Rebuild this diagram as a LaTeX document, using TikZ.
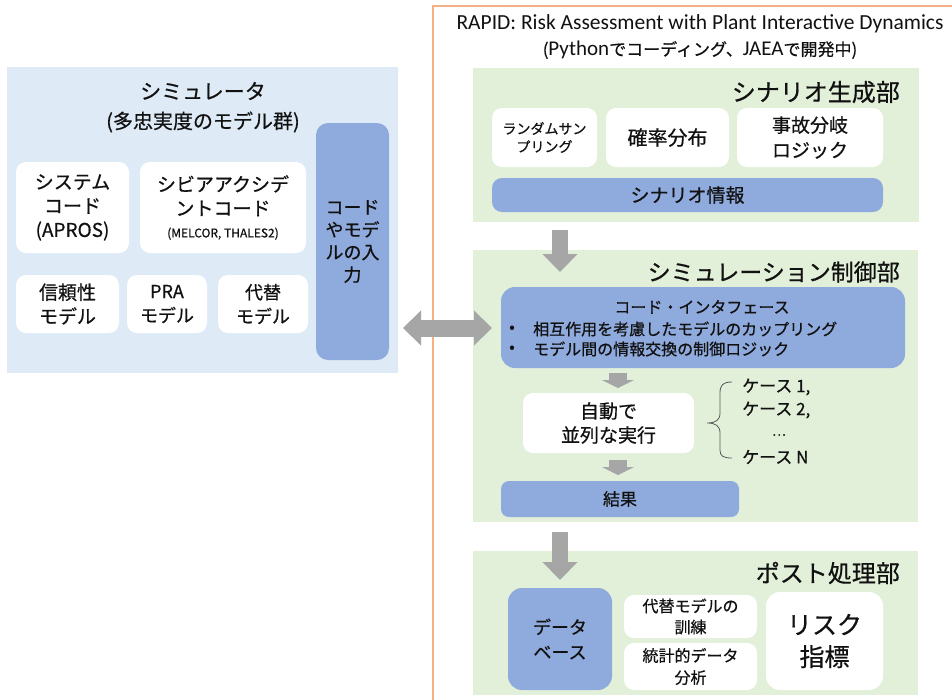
\documentclass[tikz,border=0pt]{standalone}
\usepackage{fontspec}
\setmainfont{Noto Sans CJK JP}[FakeBold=0.6]
\newfontfamily\carl{Carlito}
\usetikzlibrary{arrows.meta,calc}
\definecolor{simbg}{HTML}{DEEBF7}
\definecolor{grbg}{HTML}{E2F0D9}
\definecolor{bluebox}{HTML}{8FAADC}
\definecolor{arrgray}{HTML}{A6A6A6}
\definecolor{orangeline}{HTML}{F4B183}
\definecolor{txt}{HTML}{111111}
\tikzset{
  panel/.style={draw=none, inner sep=0pt},
  wbox/.style={fill=white, draw=none, rounded corners=10pt, align=center, inner sep=0pt, text=txt},
  bbox/.style={fill=bluebox, draw=none, rounded corners=10pt, align=center, inner sep=0pt, text=txt},
  lbl/.style={inner sep=0pt, text=txt, align=center},
  bigarrow/.style={draw=arrgray, line width=16pt, -{Triangle[width=34pt,length=18pt]}},
  smallarrow/.style={draw=arrgray, line width=18pt, -{Triangle[width=32pt,length=8pt]}},
  dblarrow/.style={draw=arrgray, line width=17pt, {Triangle[width=34pt,length=18pt]}-{Triangle[width=34pt,length=18pt]}},
}
\newcommand\fz[2]{\fontsize{#1}{#2}\selectfont}
\begin{document}
\begin{tikzpicture}[x=1pt,y=-1pt]
\useasboundingbox (0,0) rectangle (952,699);
\clip (0,0) rectangle (952,699);
\fill[white] (0,0) rectangle (952,699);

% ---------------- Simulator ----------------
\node[panel, fill=simbg, minimum width=391pt, minimum height=306pt] (sim) at (202.5,220) {};
\node[lbl, font=\fz{21}{26}] (simt1) at (203,91) {シミュレータ};
\node[lbl, font=\fz{20}{25}] (simt2) at (203,122) {(多忠実度のモデル群)};
\node[wbox, minimum width=113pt, minimum height=91pt, font=\fz{19}{24}] (sys) at (72.5,207.5) {システム\\コード\\(APROS)};
\node[wbox, minimum width=166pt, minimum height=91pt, font=\fz{19}{24}] (sa) at (223,207.5) {シビアアクシデ\\ントコード\\[-2pt]{\fz{12}{14}(MELCOR, THALES2)}};
\node[wbox, minimum width=103pt, minimum height=58pt, font=\fz{19}{24}] (rel) at (67.5,304) {信頼性\\モデル};
\node[wbox, minimum width=80pt, minimum height=58pt, font=\fz{18}{24}] (pra) at (167,304) {PRA\\モデル};
\node[wbox, minimum width=90pt, minimum height=58pt, font=\fz{18}{24}] (sur) at (263,304) {代替\\モデル};
\node[bbox, rounded corners=12pt, minimum width=73pt, minimum height=237pt, font=\fz{18}{22.5}] (inp) at (352.5,241.5) {コード\\やモデ\\ルの入\\力};

% ---------------- RAPID frame ----------------
\draw[orangeline, line width=1.5pt] (433,6) rectangle (990,740);
\node[lbl, font=\carl\fz{21.5}{24}] (rt1) at (700,24) {RAPID: Risk Assessment with Plant Interactive Dynamics};
\node[lbl, font=\fz{17}{22}] (rt2) at (700,50) {({\carl\fontsize{21}{22}\selectfont Python}でコーディング、{\carl\fontsize{21}{22}\selectfont JAEA}で開発中)};

% ---------------- Scenario generation ----------------
\node[panel, fill=grbg, minimum width=446pt, minimum height=154pt] (p1) at (696,145) {};
\node[lbl, anchor=east, font=\fz{24}{28}] (p1t) at (900,92) {シナリオ生成部};
\node[wbox, minimum width=105pt, minimum height=59pt, font=\fz{14}{18}] (rs) at (544.5,137.5) {ランダムサン\\プリング};
\node[wbox, minimum width=123pt, minimum height=59pt, font=\fz{20}{24}] (prob) at (667.5,137.5) {確率分布};
\node[wbox, minimum width=146pt, minimum height=59pt, font=\fz{19}{25}] (acc) at (810,137.5) {事故分岐\\ロジック};
\node[bbox, minimum width=391pt, minimum height=34pt, font=\fz{19}{24}] (sinfo) at (687.5,195) {シナリオ情報};

% ---------------- Simulation control ----------------
\node[panel, fill=grbg, minimum width=445pt, minimum height=272pt] (p2) at (695.5,386) {};
\node[lbl, anchor=east, font=\fz{23}{28}] (p2t) at (900,272) {シミュレーション制御部};
\node[bbox, rounded corners=14pt, minimum width=404pt, minimum height=81pt] (ci) at (703,327.5) {};
\node[lbl, font=\fz{16}{20}] (cit) at (702,307) {コード・インタフェース};
\node[lbl, font=\fz{16}{20}] (b1) at (512,329) {•};
\node[lbl, anchor=west, font=\fz{16}{20}] (b1t) at (533,329) {相互作用を考慮したモデルのカップリング};
\node[lbl, font=\fz{16}{20}] (b2) at (512,349) {•};
\node[lbl, anchor=west, font=\fz{16}{20}] (b2t) at (533,349) {モデル間の情報交換の制御ロジック};
\node[wbox, minimum width=171pt, minimum height=60pt, font=\fz{19}{24}] (auto) at (608.5,423) {自動で\\並列な実行};
\node[bbox, rounded corners=8pt, minimum width=238pt, minimum height=36pt, font=\fz{17}{22}] (res) at (620,499) {結果};
\node[lbl, anchor=west, font=\fz{17}{22}] (c1) at (742,387) {ケース 1,};
\node[lbl, anchor=west, font=\fz{17}{22}] (c2) at (742,410) {ケース 2,};
\node[lbl, font=\fz{13}{16}] (c3) at (779,435) {…};
\node[lbl, anchor=west, font=\fz{17}{22}] (cn) at (742,457) {ケース N};
\draw[black!65, line width=0.8pt] (732,382) .. controls (723,382) and (720,385) .. (720,393) -- (720,413) .. controls (720,420) and (716,423) .. (707,423) .. controls (716,423) and (720,426) .. (720,433) -- (720,450) .. controls (720,456) and (723,458) .. (732,458);

% ---------------- Post processing ----------------
\node[panel, fill=grbg, minimum width=445pt, minimum height=144pt] (p3) at (695.5,623) {};
\node[lbl, anchor=east, font=\fz{24}{28}] (p3t) at (900,573) {ポスト処理部};
\node[bbox, rounded corners=14pt, minimum width=104pt, minimum height=102pt, font=\fz{18}{25}] (db) at (560,639) {データ\\ベース};
\node[wbox, minimum width=133pt, minimum height=43pt, font=\fz{16}{21}] (tr) at (690.5,616.5) {代替モデルの\\訓練};
\node[wbox, minimum width=133pt, minimum height=47pt, font=\fz{16}{22}] (st) at (690.5,666.5) {統計的データ\\分析};
\node[wbox, rounded corners=14pt, minimum width=117pt, minimum height=98pt, font=\fz{25}{32}] (risk) at (824.5,641) {リスク\\指標};

% ---------------- Arrows ----------------
\coordinate (a1s) at (560,230);
\coordinate (a1e) at (560,272);
\draw[bigarrow] (a1s) -- (a1e);
\coordinate (a2s) at (560,532);
\coordinate (a2e) at (560,580);
\draw[bigarrow] (a2s) -- (a2e);
\coordinate (d1) at (403,328);
\coordinate (d2) at (492,328);
\draw[dblarrow] (d1) -- (d2);
\coordinate (s1s) at (618,373);
\coordinate (s1e) at (618,388);
\draw[smallarrow] (s1s) -- (s1e);
\coordinate (s2s) at (618,460);
\coordinate (s2e) at (618,475);
\draw[smallarrow] (s2s) -- (s2e);
\end{tikzpicture}
\end{document}
